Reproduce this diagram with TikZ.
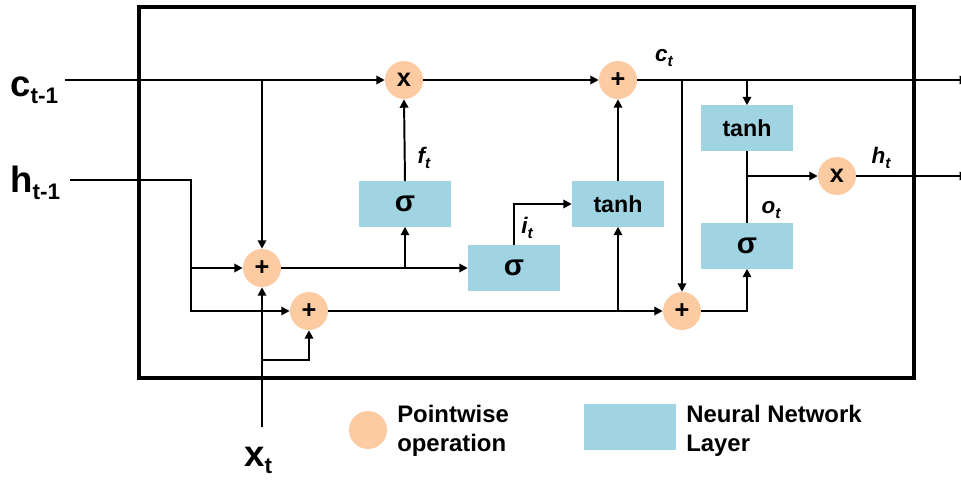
\documentclass[tikz,border=0pt]{standalone}
\usepackage{fontspec}
\setmainfont{Liberation Sans}
\usetikzlibrary{positioning,arrows.meta,calc}
\definecolor{PointPeach}{RGB}{252,203,161}
\definecolor{LayerBlue}{RGB}{160,212,226}
\newcommand{\bigsub}[1]{\raisebox{-5pt}{\fontsize{16}{16}\selectfont #1}}
\newcommand{\gatesub}[1]{\raisebox{-3pt}{\fontsize{11}{11}\selectfont #1}}

\begin{document}
\begin{tikzpicture}[
  x=0.025cm, y=-0.025cm,
  every node/.style={font=\bfseries},
  pwnode/.style={circle, fill=PointPeach, minimum size=0.95cm, inner sep=0pt, font=\bfseries\fontsize{18}{18}\selectfont},
  nnbox/.style={rectangle, fill=LayerBlue, minimum width=2.3cm, minimum height=1.125cm, inner sep=0pt},
  sigbox/.style={nnbox, font=\bfseries\fontsize{21}{21}\selectfont},
  tanhbox/.style={nnbox, font=\bfseries\fontsize{16.5}{16.5}\selectfont},
  biglbl/.style={font=\bfseries\fontsize{26}{26}\selectfont, inner sep=0pt},
  gatelbl/.style={font=\bfseries\itshape\fontsize{16}{16}\selectfont, inner sep=0pt},
  legtext/.style={font=\bfseries\fontsize{17}{21}\selectfont, align=left, inner sep=0pt},
  wire/.style={line width=1.4pt},
  arrow/.style={wire, -{Triangle[length=6pt,width=6pt]}}
]
\useasboundingbox (0,0) rectangle (961,480);

% cell frame
\draw[line width=2.2pt] (139,7) rectangle (914,378);

% inputs and outputs
\node[biglbl, anchor=base west] (cin) at (10,96) {c\bigsub{t-1}};
\node[biglbl, anchor=base west] (hin) at (10,192) {h\bigsub{t-1}};
\node[biglbl, anchor=base west] (xin) at (244,466) {x\bigsub{t}};
\coordinate (c0) at (65,80);
\coordinate (h0) at (70,180);
\coordinate (hb) at (191,180);
\coordinate (x0) at (262,427);
\coordinate (xb) at (262,360);
\coordinate (cout) at (968,80);
\coordinate (hout) at (968,176);

% pointwise operations
\node[pwnode] (mulf) at (404,80) {x};
\node[pwnode] (addc) at (618,80) {+};
\node[pwnode] (add1) at (262,268) {+};
\node[pwnode] (add2) at (309,311) {+};
\node[pwnode] (add3) at (682,311) {+};
\node[pwnode] (mulh) at (837,176) {x};

% network layers
\node[sigbox] (sigf) at (405,204) {σ};
\node[sigbox] (sigi) at (514,268) {σ};
\node[tanhbox] (tanhi) at (618,204) {tanh};
\node[tanhbox] (tanhc) at (747,128) {tanh};
\node[sigbox] (sigo) at (747,246) {σ};

% gate labels
\node[gatelbl] (ft) at (424,158) {f\gatesub{t}};
\node[gatelbl] (it) at (527,228) {i\gatesub{t}};
\node[gatelbl] (ct) at (664,58) {c\gatesub{t}};
\node[gatelbl] (ot) at (771,210) {o\gatesub{t}};
\node[gatelbl] (ht) at (881,158) {h\gatesub{t}};

% connectors
\draw[arrow] (c0) -- (mulf.west);
\draw[arrow] (add1 |- c0) -- (add1.north);
\draw[arrow] (h0) -- (hb) |- (add2.west);
\draw[arrow] (hb |- add1) -- (add1.west);
\draw[arrow] (x0) -- (add1.south);
\draw[arrow] (xb) -| (add2.south);
\draw[arrow] (add1.east) -- (sigi.west);
\draw[arrow] (sigf |- add1) -- (sigf.south);
\draw[arrow] (sigf.north) -- (mulf.south);
\draw[arrow] (sigi.north) |- (tanhi.west);
\draw[arrow] (tanhi.north) -- (addc.south);
\draw[arrow] (mulf.east) -- (addc.west);
\draw[arrow] (add2.east) -- (add3.west);
\draw[arrow] (tanhi |- add2) -- (tanhi.south);
\draw[arrow] (addc.east) -- (cout);
\draw[arrow] (add3 |- addc) -- (add3.north);
\draw[arrow] (tanhc |- addc) -- (tanhc.north);
\draw[arrow] (add3.east) -| (sigo.south);
\draw[wire] (tanhc.south) -- (sigo.north);
\draw[arrow] (tanhc |- mulh) -- (mulh.west);
\draw[arrow] (mulh.east) -- (hout);

% legend
\node[pwnode] (lgpw) at (368,430) {};
\node[legtext, anchor=west] (lgpwtxt) at (397,431) {Pointwise\\operation};
\node[nnbox] (lgnn) at (630,427) {};
\node[legtext, anchor=west] (lgnntxt) at (686,431) {Neural Network\\Layer};
\end{tikzpicture}
\end{document}
